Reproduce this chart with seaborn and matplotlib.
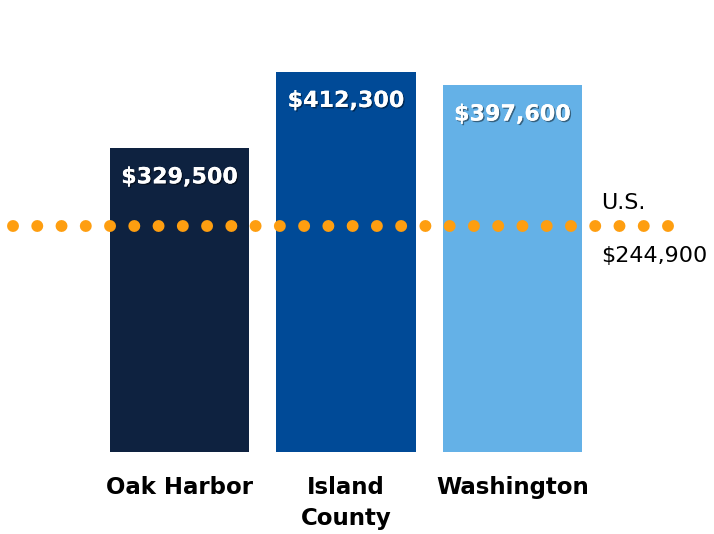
import seaborn as sns
import matplotlib.pyplot as plt
import matplotlib.patheffects as pe
import pandas as pd

# median home value data
places = ["Oak Harbor", "Island\nCounty", "Washington"]
values = [329500, 412300, 397600]
us_label = "U.S."
us_value = 244900

bar_colors = ["#0E2240", "#004A97", "#64B1E7"]
dot_color = "#FE9E10"

df = pd.DataFrame({"place": places, "value": values})

sns.set_theme(style="white")
plt.rcParams["font.family"] = ["DejaVu Sans"]

fig = plt.figure(figsize=(7.14, 5.34), dpi=100)
ax = fig.add_axes([0, 0.1536, 1, 0.777])

sns.barplot(
    data=df, x="place", y="value", hue="place",
    palette=bar_colors, width=0.835, legend=False, ax=ax,
    saturation=1, linewidth=0,
)
ax.set_ylim(0, 450000)
ax.set_xlim(-1.078, 3.21)

# dotted U.S. reference line
ax.axhline(
    us_value, xmin=0.0178, xmax=0.938, color=dot_color,
    linewidth=8.6, linestyle=(0, (0.001, 2.03)),
    dash_capstyle="round", zorder=3,
)

# value labels inside bars
shadow = [pe.withSimplePatchShadow(offset=(1, -1), alpha=0.45, shadow_rgbFace="black"), pe.Normal()]
for i, v in enumerate(values):
    ax.annotate(
        f"${v:,}", xy=(i, v), xytext=(0, -21), textcoords="offset points",
        ha="center", va="center", color="white", fontsize=16,
        fontweight="bold", path_effects=shadow, zorder=4,
    )

# U.S. annotation
ax.annotate(us_label, xy=(0.842, us_value), xycoords=("axes fraction", "data"),
            xytext=(0, 16.5), textcoords="offset points",
            ha="left", va="center", fontsize=16, color="black")
ax.annotate(f"${us_value:,}", xy=(0.842, us_value), xycoords=("axes fraction", "data"),
            xytext=(0, -21.5), textcoords="offset points",
            ha="left", va="center", fontsize=16, color="black")

ax.set_xlabel("")
ax.set_ylabel("")
ax.set_yticks([])
ax.tick_params(axis="x", length=0, pad=17, labelsize=16.5, labelcolor="black")
for lbl in ax.get_xticklabels():
    lbl.set_fontweight("bold")
    lbl.set_linespacing(1.45)
sns.despine(ax=ax, left=True, bottom=True)

fig.savefig("out.png", dpi=100, facecolor="white")
